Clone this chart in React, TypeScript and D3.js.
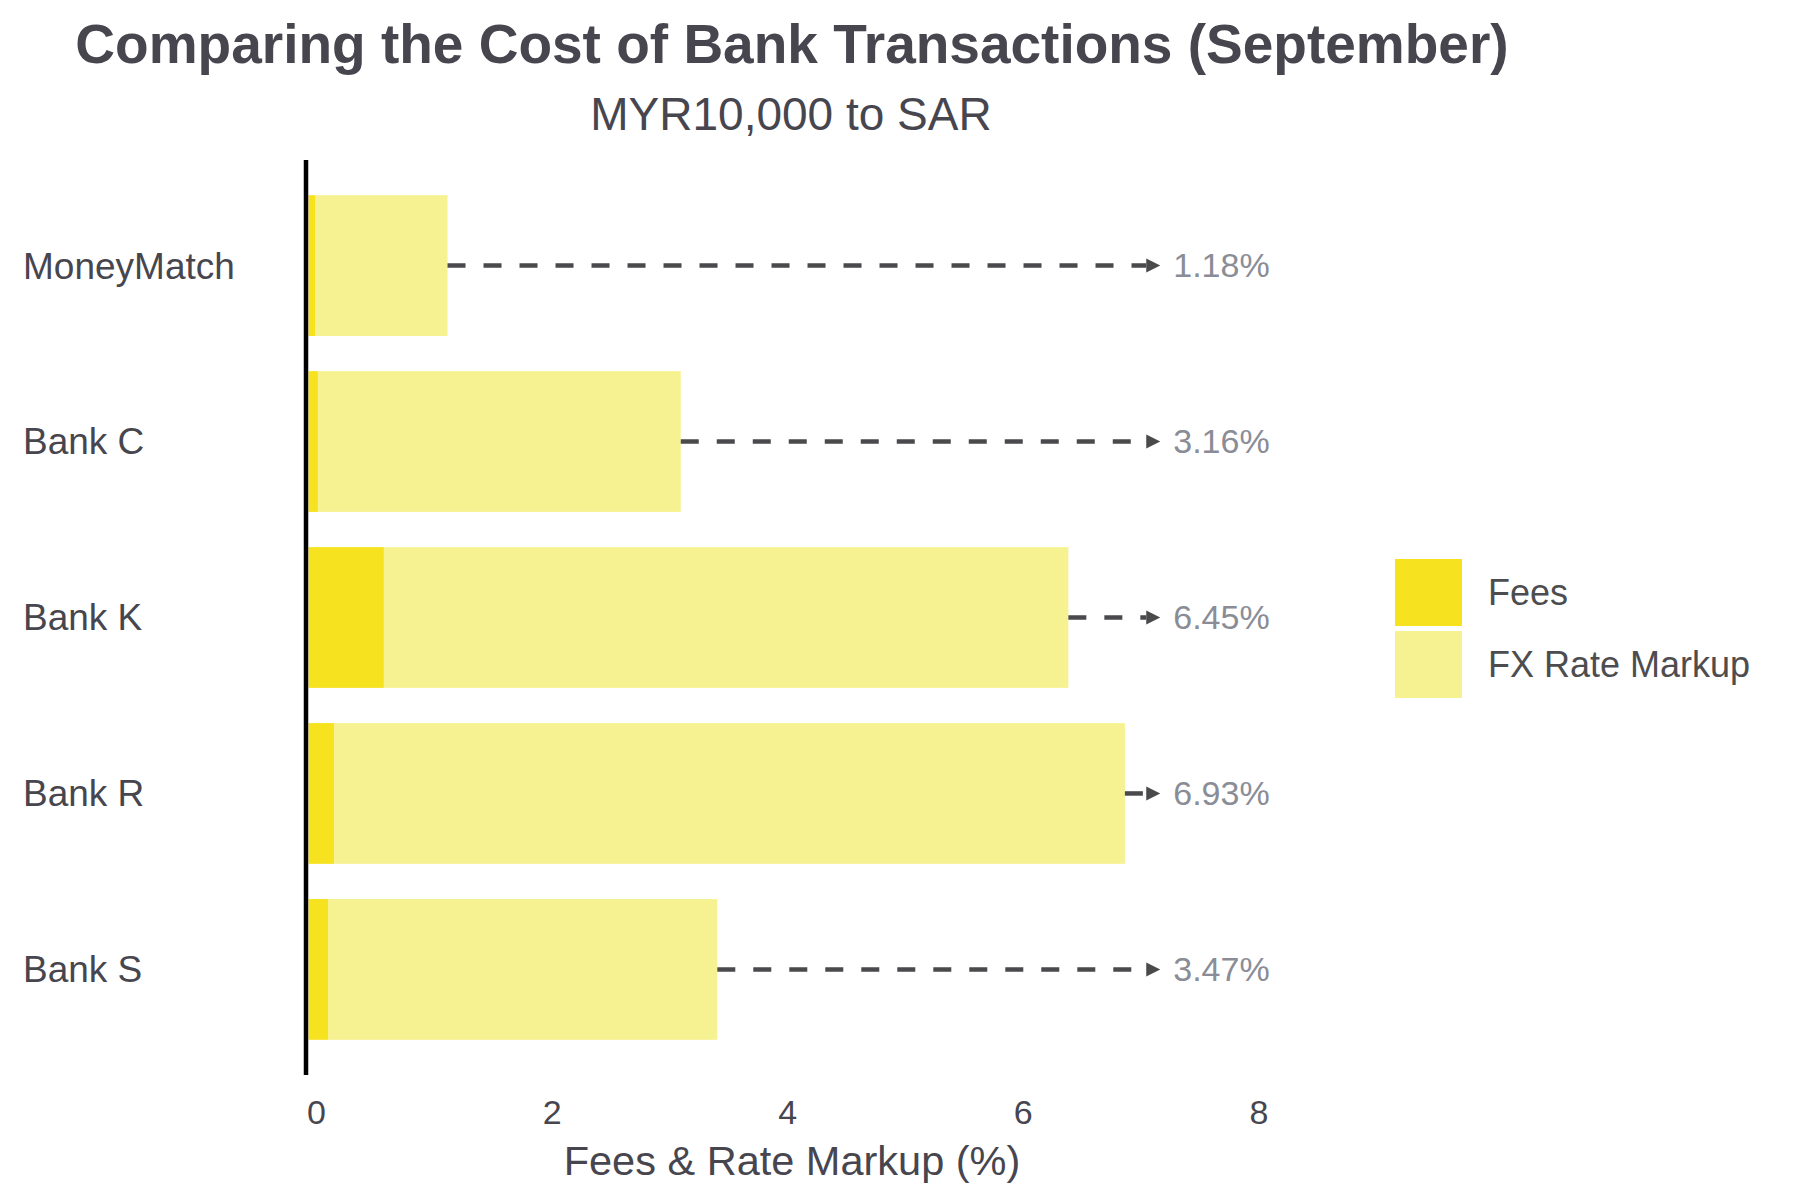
import * as React from 'react'
import { useEffect } from 'react'
import * as d3 from 'd3'

// data
const banks = ['MoneyMatch', 'Bank C', 'Bank K', 'Bank R', 'Bank S']
const fees = [0.06, 0.08, 0.64, 0.22, 0.17]
const markup = [1.12, 3.08, 5.81, 6.71, 3.3]
const xTicks = [0, 2, 4, 6, 8]
const seriesNames = ['Fees', 'FX Rate Markup']
const seriesColors = ['#f6e21f', '#f7f291']

const width = 1800
const height = 1200
const font = '"Liberation Sans", Arial, Helvetica, sans-serif'
const textColor = '#47464f'
const arrowEnd = 7.23

const App = () => {
  useEffect(() => {
    document.body.style.margin = '0'
  }, [])

  const x = d3.scaleLinear().domain([0, 8.2]).range([308.5, 1274.5])
  const y = d3.scaleBand().domain(banks).range([160, 1075]).padding(0.2)

  const rows = banks.map((b, i) => ({ bank: b, fees: fees[i], markup: markup[i] }))
  const stacked = d3.stack<any>().keys(['fees', 'markup'])(rows)

  const tipX = x(arrowEnd)
  const headLen = 14

  return (
    <svg width={width} height={height} style={{ display: 'block', fontFamily: font }}>
      <rect width={width} height={height} fill="#fff" />
      <text x={792} y={63} textAnchor="middle" fontSize={55} fontWeight="bold" fill={textColor}>
        Comparing the Cost of Bank Transactions (September)
      </text>
      <text x={791} y={130} textAnchor="middle" fontSize={46} fill={textColor}>
        MYR10,000 to SAR
      </text>

      {stacked.map((layer, li) => (
        <g key={layer.key} fill={seriesColors[li]}>
          {layer.map((d, i) => (
            <rect
              key={banks[i]}
              x={x(d[0])}
              y={y(banks[i])}
              width={x(d[1]) - x(d[0])}
              height={y.bandwidth()}
            />
          ))}
        </g>
      ))}

      {rows.map((r) => {
        const cy = (y(r.bank) as number) + y.bandwidth() / 2
        const total = r.fees + r.markup
        return (
          <g key={r.bank}>
            <line
              x1={x(total)}
              x2={tipX - headLen}
              y1={cy}
              y2={cy}
              stroke="#4a4a4d"
              strokeWidth={4.5}
              strokeDasharray="18 18"
            />
            <path
              d={`M${tipX - headLen},${cy - 7}L${tipX},${cy}L${tipX - headLen},${cy + 7}Z`}
              fill="#4a4a4d"
            />
            <text x={tipX + 13} y={cy} dy="0.35em" fontSize={34} fill="#8a8c96">
              {total.toFixed(2)}%
            </text>
            <text x={23} y={cy} dy="0.35em" fontSize={37} fill={textColor}>
              {r.bank}
            </text>
          </g>
        )
      })}

      <line x1={306} x2={306} y1={160} y2={1075} stroke="#000" strokeWidth={4.5} />

      {xTicks.map((t) => (
        <text key={t} x={x(t) + 8} y={1124} textAnchor="middle" fontSize={34} fill={textColor}>
          {t}
        </text>
      ))}
      <text x={792} y={1175} textAnchor="middle" fontSize={41.5} fill={textColor}>
        Fees &amp; Rate Markup (%)
      </text>

      {seriesNames.map((s, i) => (
        <g key={s} transform={`translate(1395, ${559 + i * 72})`}>
          <rect width={67} height={67} fill={seriesColors[i]} />
          <text x={93} y={33.5} dy="0.35em" fontSize={36} fill="#4d4d4f">
            {s}
          </text>
        </g>
      ))}
    </svg>
  )
}

export default App
